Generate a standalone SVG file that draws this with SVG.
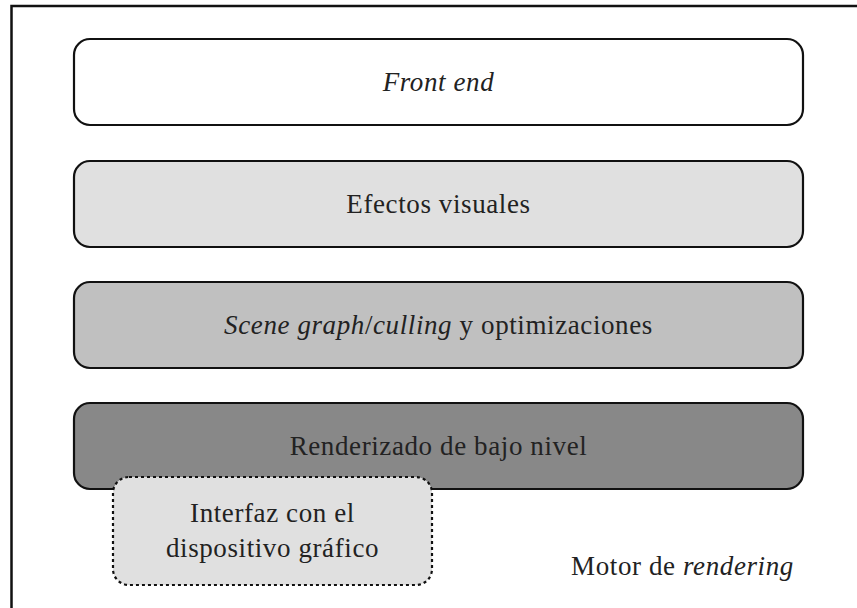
<svg xmlns="http://www.w3.org/2000/svg" width="857" height="608" viewBox="0 0 857 608">
<style>
.box{stroke:#111;stroke-width:2.2}
.t{font-family:"Liberation Serif","DejaVu Serif",serif;font-size:27px;letter-spacing:0.6px;fill:#222;text-anchor:middle}
.i{font-style:italic}
</style>
<rect x="0" y="0" width="857" height="608" fill="#fff"/>
<rect x="11.5" y="6" width="860" height="620" fill="none" stroke="#111" stroke-width="2.5"/>
<g id="front-end">
<rect class="box" x="74" y="39" width="729" height="86" rx="16" fill="#ffffff"/>
<text class="t i" x="438.5" y="91">Front end</text>
</g>
<g id="efectos">
<rect class="box" x="74" y="161" width="729" height="86" rx="16" fill="#e0e0e0"/>
<text class="t" x="438.5" y="213">Efectos visuales</text>
</g>
<g id="scene-graph">
<rect class="box" x="74" y="282" width="729" height="86" rx="16" fill="#c0c0c0"/>
<text class="t" x="438.5" y="334"><tspan class="i">Scene graph</tspan>/<tspan class="i">culling</tspan> y optimizaciones</text>
</g>
<g id="renderizado">
<rect class="box" x="74" y="403" width="729" height="86" rx="16" fill="#888888"/>
<text class="t" x="438.5" y="455">Renderizado de bajo nivel</text>
</g>
<g id="interfaz">
<rect x="113" y="477" width="319" height="108" rx="16" fill="#e0e0e0" stroke="#111" stroke-width="2.2" stroke-dasharray="3,3"/>
<text class="t" x="272.5" y="522">Interfaz con el</text>
<text class="t" x="272.5" y="557">dispositivo gráfico</text>
</g>
<g id="motor">
<text class="t" x="682.5" y="575">Motor de <tspan class="i">rendering</tspan></text>
</g>
<g id="connectors"></g>
</svg>
